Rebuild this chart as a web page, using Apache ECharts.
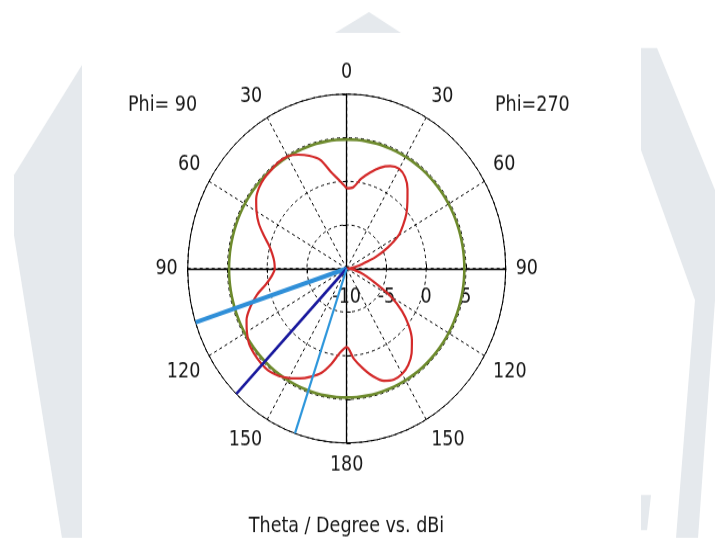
<!DOCTYPE html>
<html>
<head>
<meta charset="utf-8">
<script src="https://cdn.jsdelivr.net/npm/echarts@6/dist/echarts.min.js"></script>
<style>
html,body{margin:0;padding:0;background:#ffffff;overflow:hidden;width:715px;height:538px;}
#wrap{width:715px;height:538px;position:relative;overflow:hidden;}
#chart{position:absolute;left:0;top:0;width:715px;height:491px;transform:scaleY(1.097);transform-origin:0 0;}
</style>
</head>
<body>
<div id="wrap"><div id="chart"></div></div>
<script>
// ---------------- data ----------------
const thetaDeg = [0,5,10,15,20,25,30,35,40,45,50,55,60,65,70,75,80,85,90,
                  95,100,105,110,115,120,125,130,135,140,145,150,155,160,165,170,175,180];
// Phi = 90 cut (left half), dBi
const gainPhi90 = [-0.8,0.1,1.2,2.9,3.75,4.4,4.85,4.9,4.75,4.65,4.4,3.9,3.1,2.2,1.1,0.1,-0.5,-0.85,-0.95,
                   -0.55,0.3,1.7,2.9,3.9,4.5,5.0,5.2,5.3,5.3,5.0,4.5,3.9,3.2,2.4,1.1,-0.3,-1.0];
// Phi = 270 cut (right half), dBi
const gainPhi270 = [-0.8,-0.65,0.45,1.4,2.3,2.95,3.2,2.8,1.9,0.8,-0.2,-1.35,-2.5,-4.3,-6.1,-7.9,-8.9,-9.6,-10,
                    -9.6,-9.0,-8.2,-7.3,-6.0,-3.6,-1.5,0.2,1.6,2.7,3.5,3.95,4.05,3.7,2.8,1.6,0.4,-1.0];
const refLevelDb = 4.8;          // green reference circle
const mainLobeDeg = 136;         // main lobe direction (Phi=90 side)
const beamEdgeDeg = [108, 161];  // 3 dB beam edges (Phi=90 side)
const radiusTicks = [-10, -5, 0, 5, 10];
const angleTickStep = 30;
const sideLabels = ['Phi= 90', 'Phi=270'];
const chartTitle = 'Theta / Degree vs. dBi';

// ---------------- layout ----------------
const S = 1.097;                 // vertical stretch of the picture
const CX = 346.7, CY = 268.5 / S, R = 159;
const FONT = "'DejaVu Sans Condensed','DejaVu Sans','Liberation Sans',sans-serif";
const FS = 19.5;
const TXT = '#181818';
const py = v => v / S;

// build series data through polar [radius, angle]
const leftPts = thetaDeg.map((t, i) => [gainPhi90[i], t]);
const rightPts = thetaDeg.map((t, i) => [gainPhi270[i], 360 - t]).reverse();
const patternData = leftPts.concat(rightPts);
const refCircle = thetaDeg.map(t => [refLevelDb, t])
  .concat(thetaDeg.map(t => [refLevelDb, 360 - t]).reverse());
const rMin = radiusTicks[0], rMax = radiusTicks[radiusTicks.length - 1];
const ray = a => [[rMin, a], [rMax, a]];

const crossStarts = [90, 0, 270, 180];

const polar = [{center: [CX, CY], radius: R}]
  .concat(crossStarts.map(() => ({center: [CX, CY], radius: R})));

const angleAxis = [{
  polarIndex: 0, type: 'value', min: 0, max: 360, interval: angleTickStep,
  startAngle: 90, clockwise: false,
  axisLine: {show: true, lineStyle: {color: '#000', width: 1}},
  axisTick: {show: false},
  axisLabel: {
    margin: 10, color: TXT, fontSize: FS, fontFamily: FONT,
    formatter: v => (v >= 360 ? '' : String(v > 180 ? 360 - v : v))
  },
  splitLine: {show: true, lineStyle: {color: '#000', width: 1, type: [3, 3]}},
  z: 1
}].concat(crossStarts.map((a, i) => ({
  polarIndex: i + 1, type: 'value', min: 0, max: 360, startAngle: a, show: false
})));

const radiusAxis = [{
  polarIndex: 0, type: 'value', min: rMin, max: rMax, interval: 5,
  axisLine: {show: false}, axisTick: {show: false}, axisLabel: {show: false},
  splitLine: {show: true, lineStyle: {color: '#000', width: 1, type: [3, 3]}},
  z: 1
}].concat(crossStarts.map((a, i) => ({
  polarIndex: i + 1, type: 'value', min: rMin, max: rMax, interval: 5,
  axisLine: {show: true, lineStyle: {color: '#000', width: 1.3}},
  axisTick: {show: true, length: 4, lineStyle: {color: '#000', width: 1}},
  axisLabel: a === 0 ? {
    show: true, margin: -16, verticalAlign: 'top', align: 'center',
    color: TXT, fontSize: FS, fontFamily: FONT,
    formatter: v => (v >= rMax ? '' : String(v))
  } : {show: false},
  splitLine: {show: false},
  z: 3
})));

// light watermark shapes of the page behind the figure
const wm = pts => pts.map(p => [p[0], py(p[1])]);
const WM = '#e5e9ed';

const option = {
  animation: false,
  backgroundColor: '#ffffff',
  polar, angleAxis, radiusAxis,
  graphic: [
    {type: 'polygon', z: -5, shape: {points: wm([[335,33],[369,12],[401,33]])}, style: {fill: WM}},
    {type: 'polygon', z: -5, shape: {points: wm([[82,65],[14,175],[14,235],[62,538],[82,538]])}, style: {fill: WM}},
    {type: 'polygon', z: -5, shape: {points: wm([[641,48],[657,48],[715,190],[715,300],[698,538],[676,538],[695,300],[641,150]])}, style: {fill: WM}},
    {type: 'polygon', z: -5, shape: {points: wm([[641,495],[651,495],[647,530],[641,530]])}, style: {fill: WM}},
    {type: 'text', z: 10, x: 128, y: py(105), style: {text: sideLabels[0], fill: TXT, fontSize: FS, fontFamily: FONT, align: 'left', verticalAlign: 'middle'}},
    {type: 'text', z: 10, x: 495, y: py(105), style: {text: sideLabels[1], fill: TXT, fontSize: FS, fontFamily: FONT, align: 'left', verticalAlign: 'middle'}},
    {type: 'text', z: 10, x: 346.5, y: py(526), style: {text: chartTitle, fill: TXT, fontSize: FS, fontFamily: FONT, align: 'center', verticalAlign: 'middle'}}
  ],
  series: [
    {type: 'line', coordinateSystem: 'polar', polarIndex: 0, data: refCircle, smooth: true,
     showSymbol: false, lineStyle: {color: '#6d8a2c', width: 2.6}, z: 4},
    {type: 'line', coordinateSystem: 'polar', polarIndex: 0, data: patternData, smooth: 0.3,
     showSymbol: false, lineStyle: {color: '#d42a2a', width: 2.2}, z: 5},
    {type: 'line', coordinateSystem: 'polar', polarIndex: 0, data: ray(beamEdgeDeg[0]),
     showSymbol: false, lineStyle: {color: '#2f8fd8', width: 4}, z: 6},
    {type: 'line', coordinateSystem: 'polar', polarIndex: 0, data: ray(mainLobeDeg),
     showSymbol: false, lineStyle: {color: '#1a1a9e', width: 2.6}, z: 6},
    {type: 'line', coordinateSystem: 'polar', polarIndex: 0, data: ray(beamEdgeDeg[1]),
     showSymbol: false, lineStyle: {color: '#2f97dc', width: 2.2}, z: 6}
  ]
};

const chart = echarts.init(document.getElementById('chart'), null, {renderer: 'canvas'});
chart.setOption(option);
</script>
</body>
</html>
